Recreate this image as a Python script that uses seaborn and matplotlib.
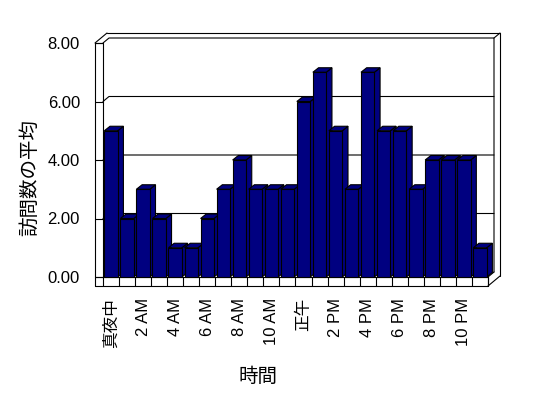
import numpy as np
import matplotlib
matplotlib.use("Agg")
import matplotlib.pyplot as plt
import matplotlib.transforms as mtransforms
from matplotlib.patches import Polygon
import seaborn as sns

# data: average visits per hour
hours = ['真夜中', '1 AM', '2 AM', '3 AM', '4 AM', '5 AM', '6 AM', '7 AM',
         '8 AM', '9 AM', '10 AM', '11 AM', '正午', '1 PM', '2 PM', '3 PM',
         '4 PM', '5 PM', '6 PM', '7 PM', '8 PM', '9 PM', '10 PM', '11 PM']
avg_visits = [5, 2, 3, 2, 1, 1, 2, 3, 4, 3, 3, 3,
              6, 7, 5, 3, 7, 5, 5, 3, 4, 4, 4, 1]
y_ticks = [0, 2, 4, 6, 8]
x_label = '時間'
y_label = '訪問数の平均'

W, H = 548, 398
BAR_COLOR = '#000080'
FONTS = ['Liberation Sans', 'Noto Sans CJK JP', 'DejaVu Sans']

sns.set_theme(style='white')
plt.rcParams['font.family'] = FONTS

fig = plt.figure(figsize=(W / 100, H / 100), dpi=100)
fig.patch.set_facecolor('white')

# front plane of the 3D box, in pixels (from top-left)
left, right, top, bottom = 103, 488, 43, 277
ax = fig.add_axes([left / W, 1 - bottom / H, (right - left) / W, (bottom - top) / H])
ax.set_facecolor('none')

sns.barplot(x=hours, y=avg_visits, color=BAR_COLOR, saturation=1,
            width=0.835, edgecolor='black', linewidth=0.8, ax=ax)

ax.set_xlim(-0.5, len(hours) - 0.5)
ax.set_ylim(0, 8)
for s in ax.spines.values():
    s.set_visible(False)

px_x = (right - left) / len(hours)
px_y = (bottom - top) / 8.0

# pixel transform for the box frame
pix = mtransforms.Affine2D().scale(1 / W, -1 / H).translate(0, 1) + fig.transFigure

# 3D depth for the bars
bdx, bdy = 5.7 / px_x, 4.5 / px_y
for i, p in enumerate(ax.patches):
    x0, w, h = p.get_x(), p.get_width(), p.get_height()
    side = Polygon([(x0 + w, 0), (x0 + w + bdx, bdy), (x0 + w + bdx, h + bdy), (x0 + w, h)],
                   closed=True, facecolor=BAR_COLOR, edgecolor='black', lw=0.8,
                   zorder=3 + 3 * i, clip_on=False)
    cap = Polygon([(x0, h), (x0 + bdx, h + bdy), (x0 + w + bdx, h + bdy), (x0 + w, h)],
                  closed=True, facecolor=BAR_COLOR, edgecolor='black', lw=0.8,
                  zorder=4 + 3 * i, clip_on=False)
    ax.add_patch(side)
    ax.add_patch(cap)
    p.set_zorder(5 + 3 * i)
    p.set_clip_on(False)

# walls: back wall sits one depth step behind the front plane
dx, dy = 6, 5
line_kw = dict(color='black', lw=0.8, transform=pix, clip_on=False, zorder=1)
for v in y_ticks[1:-1]:
    yv = bottom - v * px_y
    ax.plot([left, left + dx, right + dx], [yv, yv - dy, yv - dy], **line_kw)

frame = [
    ([95, 95], [top, 286]),
    ([95, right], [286, 286]),
    ([left, left], [top, bottom]),
    ([95, right], [bottom, bottom]),
    ([right, right], [bottom, 286]),
    ([right, right + dx], [bottom, bottom - dy]),
    ([right, right + 2 * dx], [286, 286 - 2 * dy]),
    ([95, left], [top, top]),
    ([95, 95 + 2 * dx], [top, top - 2 * dy]),
    ([left, left + dx, right + dx, right + dx], [top, top - dy, top - dy, bottom - dy]),
    ([95 + 2 * dx, right + 2 * dx, right + 2 * dx], [top - 2 * dy, top - 2 * dy, 286 - 2 * dy]),
    ([right + dx, right + 2 * dx], [top - dy, top - 2 * dy]),
]
for xs, ys in frame:
    ax.plot(xs, ys, **line_kw)

# ticks and labels
ax.set_yticks(y_ticks, [f'{v:.2f}' for v in y_ticks])
ax.tick_params(axis='y', which='major', left=True, direction='out',
               length=5.8, width=0.8, color='black', pad=10.8, labelsize=12)
ax.set_xticks(range(0, len(hours), 2), hours[::2], rotation=90)
ax.set_xticks(np.arange(-0.5, len(hours), 1), minor=True)
ax.tick_params(axis='x', which='major', bottom=True, length=0, pad=15, labelsize=12)
ax.tick_params(axis='x', which='minor', bottom=True, direction='out',
               length=6.5, width=0.8, color='black')
for lab in ax.get_xticklabels() + ax.get_yticklabels():
    lab.set_color('black')
ax.set_xlabel('')
ax.set_ylabel('')

fig.text(30 / W, 1 - 177 / H, y_label, rotation=90, ha='center', va='center',
         fontsize=14, color='black', family=['Noto Sans CJK JP', 'DejaVu Sans'])
fig.text(258 / W, 1 - 376 / H, x_label, ha='center', va='center',
         fontsize=14, color='black', family=['Noto Sans CJK JP', 'DejaVu Sans'])

fig.savefig('out.png', dpi=100)
